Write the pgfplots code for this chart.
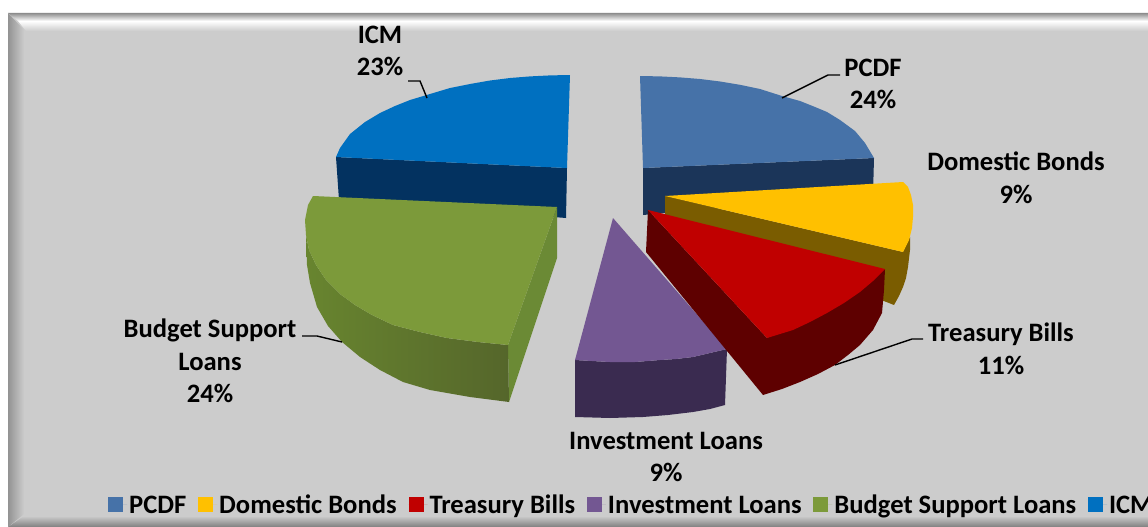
\documentclass[border=0pt]{standalone}
\usepackage{pgfplots}
\pgfplotsset{compat=1.18}
\usepackage{fontspec}
\setmainfont{Carlito}
\definecolor{panel}{HTML}{CCCCCC}
\definecolor{cPCDF}{HTML}{4672A8}
\definecolor{dPCDF}{HTML}{1B3559}
\definecolor{cDom}{HTML}{FFC000}
\definecolor{dDom}{HTML}{7A5C00}
\definecolor{cTre}{HTML}{C00000}
\definecolor{dTre}{HTML}{5E0000}
\definecolor{cInv}{HTML}{735792}
\definecolor{dInv}{HTML}{3A2B50}
\definecolor{cBud}{HTML}{7C9A3A}
\definecolor{dBud}{HTML}{68852F}
\definecolor{eBud}{HTML}{55662B}
\definecolor{sBud}{HTML}{6B8A35}
\definecolor{cICM}{HTML}{0070C0}
\definecolor{dICM}{HTML}{033260}
\newcommand{\lab}{\fontsize{26.6}{32.5}\selectfont\bfseries}
\begin{document}
\begin{tikzpicture}
\useasboundingbox (0,0) rectangle (1148pt,527pt);
\begin{axis}[
	at={(0,0)}, anchor=south west,
	scale only axis,
	width=1148pt, height=527pt,
	xmin=0, xmax=1148,
	ymin=0, ymax=527,
	y dir=reverse,
	axis lines=none,
	legend columns=-1,
	legend cell align=left,
	legend image code/.code={\path (0pt,0pt) -- (19pt,0pt); \fill[#1] (0pt,-7.5pt) rectangle (15pt,7.5pt);},
	legend style={
		draw=none, fill=none,
		at={(axis cs:108,504.5)}, anchor=west,
		inner xsep=0pt, inner ysep=0pt,
		font=\lab,
		nodes={text height=17pt, text depth=0pt},
		/tikz/every even column/.append style={column sep=9.8pt},
	},
	every axis plot/.append style={forget plot},
]
% panel and bevels
\addplot[fill=panel, draw=none] coordinates {(8,13)(1148,13)(1148,527)(8,527)} --cycle;
\addplot[draw=none, top color=gray!90, bottom color=white] coordinates {(8,13)(1148,13)(1148,21)(18,21)(8,13)} --cycle;
\addplot[draw=none, top color=white, bottom color=panel] coordinates {(18,21)(1148,21)(1148,31)(26,31)} --cycle;
\addplot[draw=none, left color=gray!85, right color=panel] coordinates {(8,13)(24,30)(24,514)(8,527)} --cycle;
\addplot[draw=none, top color=panel, bottom color=gray] coordinates {(24,516)(1148,516)(1148,527)(8,527)} --cycle;

% PCDF
\addplot[fill=dPCDF, draw=none] coordinates {(643,168)(874,158)(873,195)(643,215)} --cycle;
\addplot[fill=cPCDF, draw=none] coordinates {(640,76)(660,76.4)(680,77.4)(700,79)(720,81.5)(740,84.8)(760,89)(782,96)(800,101)(815,107)(827,112)(840,120)(855,131)(865,143)(874,158)(643,168)} --cycle;
% ICM
\addplot[fill=dICM, draw=none] coordinates {(336,157)(567,168)(566,218)(339,200)} --cycle;
\addplot[fill=cICM, draw=none] coordinates {(570,75)(550,75.4)(530,76.4)(510,78)(490,80.5)(470,84)(450,88)(430,94)(410,100)(395,106)(380,113)(365,122)(350,134)(340,148)(336,157)(567,168)} --cycle;
% Domestic Bonds
\addplot[fill=dDom, draw=none] coordinates {(665,196)(665,215)(894,305)(899,296)(903,287)(906,278)(908,267)(910,250)(910,237)(903,252)} --cycle;
\addplot[fill=cDom, draw=none] coordinates {(665,196)(903,182)(908,187)(911,195)(913,205)(913,217)(912,228)(909,240)(903,252)} --cycle;
% Investment Loans
\addplot[fill=dInv, draw=none] coordinates {(575,360)(592,361)(610,362)(635,362)(660,360)(676,359)(693,357)(710,353)(727,349)(725,405)(710,409)(693,412)(668,415)(643,417)(610,418)(575,417)} --cycle;
\addplot[fill=cInv, draw=none] coordinates {(613,218)(727,349)(710,353)(693,357)(676,359)(660,360)(635,362)(610,362)(592,361)(575,360)} --cycle;
% Treasury Bills
\addplot[fill=dTre, draw=none] coordinates {(648,210)(767,338)(885,269)(884,290)(882,313)(873,330)(860,345)(848,355)(835,365)(818,374)(800,382)(782,389)(763,395)(646,252)} --cycle;
\addplot[fill=cTre, draw=none] coordinates {(648,210)(885,269)(873,281)(860,292)(844,303)(827,313)(810,322)(793,330)(780,334)(767,338)} --cycle;
% Budget Support Loans
\addplot[fill=sBud, draw=none] coordinates {(557,207)(508,345)(509,402)(557,258)} --cycle;
\addplot[draw=none, left color=dBud, right color=eBud] coordinates {(306,235)(309,250)(316,265)(326,280)(340,294)(355,305)(372,315)(393,325)(420,332)(447,338)(478,342)(508,345)(509,402)(470,397)(430,390)(403,382)(380,370)(360,357)(342,342)(328,326)(317,307)(310,283)(307,265)} --cycle;
\addplot[fill=cBud, draw=none] coordinates {(313,196)(557,207)(508,345)(478,342)(447,338)(420,332)(393,325)(372,315)(355,305)(340,294)(326,280)(316,265)(309,250)(306,235)(305,220)(308,205)} --cycle;

% leader lines
\addplot[black, line width=1.4pt] coordinates {(782,98)(828,75)(840,75)};
\addplot[black, line width=1.4pt] coordinates {(835,365)(912,339)(923,339)};
\addplot[black, line width=1.4pt] coordinates {(408,81)(420,81)(427,98)};
\addplot[black, line width=1.4pt] coordinates {(302,336)(317,336)(342,342)};

% legend keys
\addlegendimage{fill=cPCDF, draw=none}
\addlegendimage{fill=cDom, draw=none}
\addlegendimage{fill=cTre, draw=none}
\addlegendimage{fill=cInv, draw=none}
\addlegendimage{fill=cBud, draw=none}
\addlegendimage{fill=cICM, draw=none}
\legend{PCDF,Domestic Bonds,Treasury Bills,Investment Loans,Budget Support Loans,ICM}

% data labels
\node[font=\lab, align=center] at (axis cs:380,51) {ICM\\23\%};
\node[font=\lab, align=center] at (axis cs:873,84) {PCDF\\24\%};
\node[font=\lab, align=center] at (axis cs:1016,178) {Domestic Bonds\\9\%};
\node[font=\lab, align=center] at (axis cs:1001,349) {Treasury Bills\\11\%};
\node[font=\lab, align=center] at (axis cs:210,361) {Budget Support\\Loans\\24\%};
\node[font=\lab, align=center] at (axis cs:666,457) {Investment Loans\\9\%};
\end{axis}
\end{tikzpicture}
\end{document}
